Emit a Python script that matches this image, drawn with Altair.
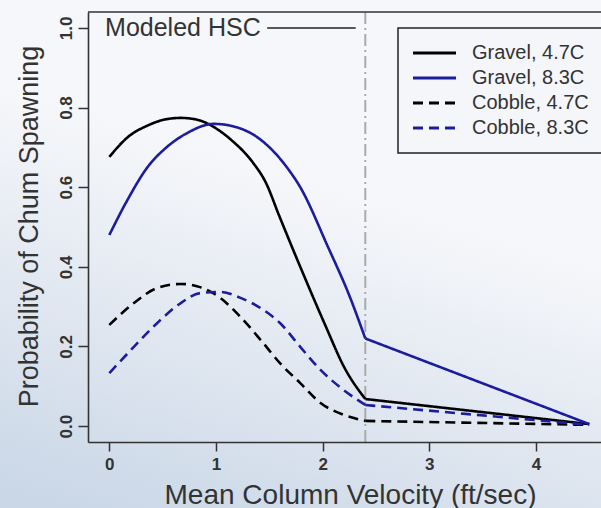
import altair as alt
import pandas as pd

# ---------------- data ----------------
series_names = ["Gravel, 4.7C", "Gravel, 8.3C", "Cobble, 4.7C", "Cobble, 8.3C"]

gravel_47_x = [0, 0.17, 0.36, 0.54, 0.67, 0.83, 0.98, 1.15, 1.34, 1.47, 1.59, 1.72, 1.85, 2.03, 2.2, 2.4, 4.5]
gravel_47_y = [0.676, 0.725, 0.755, 0.771, 0.774, 0.769, 0.751, 0.717, 0.664, 0.61, 0.53, 0.445, 0.362, 0.25, 0.149, 0.068, 0.005]

gravel_83_x = [0, 0.17, 0.36, 0.54, 0.73, 0.98, 1.16, 1.42, 1.67, 1.79, 2.05, 2.25, 2.4, 4.5]
gravel_83_y = [0.48, 0.568, 0.651, 0.701, 0.736, 0.759, 0.753, 0.719, 0.648, 0.60, 0.45, 0.328, 0.22, 0.005]

cobble_47_x = [0, 0.23, 0.45, 0.67, 0.85, 1.04, 1.23, 1.42, 1.6, 1.79, 1.98, 2.2, 2.4, 4.5]
cobble_47_y = [0.254, 0.309, 0.347, 0.357, 0.349, 0.322, 0.274, 0.216, 0.158, 0.108, 0.058, 0.028, 0.013, 0.003]

cobble_83_x = [0, 0.23, 0.45, 0.67, 0.85, 1.04, 1.23, 1.42, 1.6, 1.79, 1.98, 2.2, 2.4, 4.5]
cobble_83_y = [0.133, 0.199, 0.259, 0.309, 0.334, 0.337, 0.322, 0.296, 0.259, 0.199, 0.141, 0.09, 0.053, 0.003]

x_ticks = [0, 1, 2, 3, 4]
y_ticks = [0.0, 0.2, 0.4, 0.6, 0.8, 1.0]

hsc_velocity = 2.4
hsc_label = ["Modeled HSC"]
hsc_label_x = [-0.04]
hsc_label_y = [1.0]
hsc_line_x1 = [1.48]
hsc_line_x2 = [2.31]
hsc_line_y = [1.0]

x_title = "Mean Column Velocity (ft/sec)"
y_title = "Probability of Chum Spawning"

# ---------------- build tables ----------------
curve_rows, tail_rows = [], []
for name, xs, ys in zip(series_names,
                        [gravel_47_x, gravel_83_x, cobble_47_x, cobble_83_x],
                        [gravel_47_y, gravel_83_y, cobble_47_y, cobble_83_y]):
    for i, (xv, yv) in enumerate(zip(xs, ys)):
        row = {"series": name, "velocity": xv, "prob": yv, "order": i}
        if xv <= hsc_velocity:
            curve_rows.append(row)
        if xv >= hsc_velocity:
            tail_rows.append(row)
curve_df = pd.DataFrame(curve_rows)
tail_df = pd.DataFrame(tail_rows)

TXT = "#333333"
FONT = "Liberation Sans"
BLUE = "#1c1c9e"
series_colors = ["#000000", BLUE, "#000000", BLUE]
series_dashes = [[1, 0], [1, 0], [10, 6], [10, 6]]

x_scale = alt.Scale(domain=[-0.2, 4.61], nice=False, zero=False)
y_scale = alt.Scale(domain=[-0.04, 1.04], nice=False, zero=False)

W, H = 513, 430

one = pd.DataFrame({"a": [0]})

bg = alt.Chart(one).mark_rect(
    fill=alt.LinearGradient(
        gradient="linear",
        x1=0.5, y1=0.35, x2=0.25, y2=1.05,
        stops=[alt.GradientStop(offset=0, color="#f6f7fa"),
               alt.GradientStop(offset=1, color="#cad7e7")],
    ),
    strokeWidth=0,
).encode(x=alt.value(-88), x2=alt.value(W), y=alt.value(-12), y2=alt.value(H + 66))

x_axis = alt.Axis(values=x_ticks, format="d", grid=False, zindex=1,
                  domain=True, domainColor=TXT, domainWidth=1.6,
                  ticks=True, tickSize=9, tickWidth=1.5, tickColor=TXT,
                  labelFont=FONT, labelFontSize=17, labelFontWeight="bold",
                  labelColor=TXT, labelPadding=5, labelBaseline="top",
                  titleFont=FONT, titleFontSize=28, titleFontWeight="normal",
                  titleColor=TXT, titleX=262, titleY=61,
                  titleBaseline="alphabetic", titleAlign="center")
y_axis = alt.Axis(values=y_ticks, format=".1f", grid=False, zindex=1,
                  domain=True, domainColor=TXT, domainWidth=1.6,
                  ticks=True, tickSize=10, tickWidth=1.5, tickColor=TXT,
                  labelFont=FONT, labelFontSize=17, labelFontWeight="bold",
                  labelColor=TXT, labelAngle=270, labelAlign="center",
                  labelBaseline="alphabetic", labelPadding=7,
                  titleFont=FONT, titleFontSize=27, titleFontWeight="normal",
                  titleColor=TXT, titleAngle=270, titleX=-51, titleY=214,
                  titleBaseline="alphabetic", titleAlign="center")

def series_enc(chart):
    return chart.encode(
        x=alt.X("velocity:Q", scale=x_scale, title=x_title, axis=x_axis),
        y=alt.Y("prob:Q", scale=y_scale, title=y_title, axis=y_axis),
        color=alt.Color("series:N",
                        scale=alt.Scale(domain=series_names, range=series_colors),
                        legend=None),
        strokeDash=alt.StrokeDash("series:N",
                                  scale=alt.Scale(domain=series_names, range=series_dashes),
                                  legend=None),
        order="order:Q",
    )

curves = series_enc(alt.Chart(curve_df).mark_line(strokeWidth=2.6, interpolate="monotone"))
tails = series_enc(alt.Chart(tail_df).mark_line(strokeWidth=2.6))

hsc_df = pd.DataFrame({"v": [hsc_velocity]})
vline = alt.Chart(hsc_df).mark_rule(color="#aaaaaa", strokeWidth=2,
                                    strokeDash=[12, 4, 2, 4]).encode(
    x=alt.X("v:Q", scale=x_scale, title=x_title))

label_df = pd.DataFrame({"x": hsc_label_x, "y": hsc_label_y, "t": hsc_label})
label = alt.Chart(label_df).mark_text(align="left", baseline="middle", font=FONT,
                                      fontSize=25, color=TXT).encode(
    x=alt.X("x:Q", scale=x_scale, title=x_title),
    y=alt.Y("y:Q", scale=y_scale, title=y_title),
    text="t:N")

seg_df = pd.DataFrame({"x1": hsc_line_x1, "x2": hsc_line_x2, "y": hsc_line_y})
seg = alt.Chart(seg_df).mark_rule(color="#222222", strokeWidth=1.5).encode(
    x=alt.X("x1:Q", scale=x_scale, title=x_title), x2="x2:Q",
    y=alt.Y("y:Q", scale=y_scale, title=y_title))

top_border = alt.Chart(one).mark_rule(color=TXT, strokeWidth=1.6).encode(
    x=alt.value(0), x2=alt.value(W), y=alt.value(0))

# ---------------- legend (drawn box, layout in pixels) ----------------
legend_box = alt.Chart(one).mark_rect(fill="#f5f6f9", stroke="#222222",
                                      strokeWidth=1.5).encode(
    x=alt.value(310), x2=alt.value(530), y=alt.value(16), y2=alt.value(141))

legend_layers = [legend_box]
row_y = [41, 66, 91, 116]
for name, col, dash, ry in zip(series_names, series_colors, series_dashes, row_y):
    legend_layers.append(
        alt.Chart(one).mark_rule(color=col, strokeWidth=3, strokeDash=dash).encode(
            x=alt.value(325), x2=alt.value(368), y=alt.value(ry)))
    legend_layers.append(
        alt.Chart(one).mark_text(align="left", baseline="middle", font=FONT,
                                 fontSize=20, color=TXT, text=name).encode(
            x=alt.value(384), y=alt.value(ry)))

chart = alt.layer(bg, vline, curves, tails, seg, label, top_border,
                  *legend_layers).properties(
    width=W, height=H,
    autosize=alt.AutoSizeParams(type="none"),
    padding={"left": 88, "top": 12, "right": 0, "bottom": 66},
    background="#eef2f7",
).configure_view(stroke=None)

chart.save("out.html", embed_options={"renderer": "svg", "actions": False})
